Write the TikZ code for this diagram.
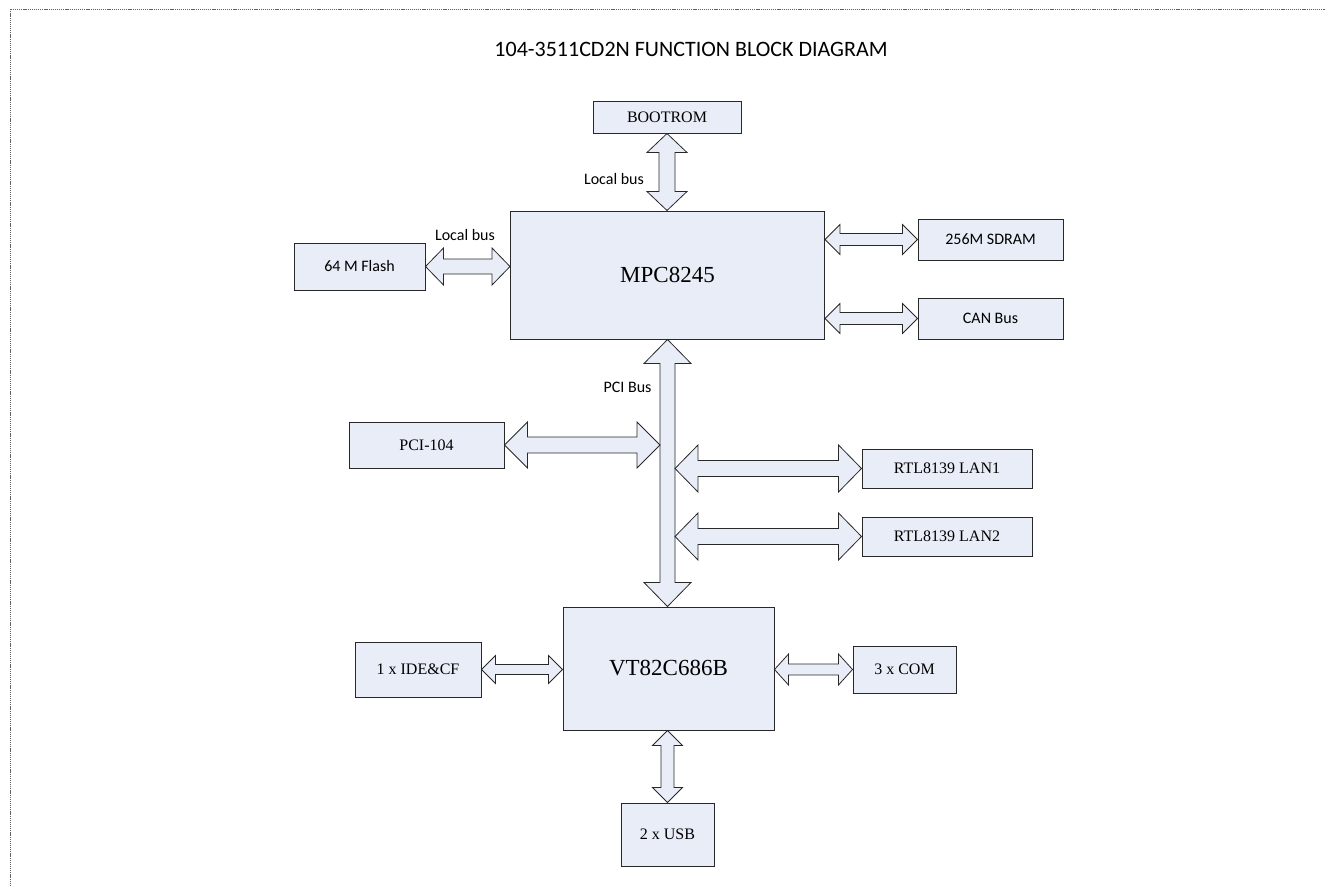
\documentclass[tikz,border=0pt]{standalone}
\usepackage{fontspec}
\setmainfont{Liberation Serif}
\newfontfamily\calfont{Carlito}
\usetikzlibrary{calc}
\definecolor{boxfill}{RGB}{233,237,247}
\definecolor{edge}{RGB}{40,40,40}
\tikzset{
  blk/.style={draw=edge, line width=1pt, fill=boxfill, inner sep=0pt, font=\fontsize{16}{18}\selectfont},
  bigblk/.style={blk, font=\fontsize{23}{26}\selectfont},
  calblk/.style={blk, font=\calfont\fontsize{16}{18}\selectfont},
  lbl/.style={inner sep=0pt, font=\calfont\fontsize{16}{18}\selectfont},
  barrow/.style={draw=edge, line width=0.8pt, fill=boxfill, line join=miter},
  frame/.style={draw=gray!75!black, line width=1pt, dash pattern=on 1.2pt off 0.9pt}
}
% horizontal double block arrow: #1 left tip, #2 right tip, #3 half shaft, #4 half head, #5 head length
\newcommand\harrow[5]{%
  \draw[barrow] (#1) -- ($(#1)+(#5,-#4)$) -- ($(#1)+(#5,-#3)$) -- ($(#2)+(-#5,-#3)$) -- ($(#2)+(-#5,-#4)$) -- (#2)
   -- ($(#2)+(-#5,#4)$) -- ($(#2)+(-#5,#3)$) -- ($(#1)+(#5,#3)$) -- ($(#1)+(#5,#4)$) -- cycle;}
% vertical double block arrow: #1 top tip, #2 bottom tip
\newcommand\varrow[5]{%
  \draw[barrow] (#1) -- ($(#1)+(#4,#5)$) -- ($(#1)+(#3,#5)$) -- ($(#2)+(#3,-#5)$) -- ($(#2)+(#4,-#5)$) -- (#2)
   -- ($(#2)+(-#4,-#5)$) -- ($(#2)+(-#3,-#5)$) -- ($(#1)+(-#3,#5)$) -- ($(#1)+(-#4,#5)$) -- cycle;}
\begin{document}
\begin{tikzpicture}[x=1pt,y=-1pt]
\useasboundingbox (0,0) rectangle (1325,886);
\draw[frame] (10,886) -- (10,9) -- (1325,9);

\node[lbl, font=\calfont\fontsize{22}{24}\selectfont] (title) at (691,49) {104-3511CD2N FUNCTION BLOCK DIAGRAM};

\node[blk, minimum width=148, minimum height=32] (boot) at (667,117) {BOOTROM};
\node[bigblk, minimum width=314, minimum height=128] (mpc) at (667.5,275) {MPC8245};
\node[calblk, minimum width=131, minimum height=47] (flash) at (359.5,266.5) {64 M Flash};
\node[calblk, minimum width=145, minimum height=41] (sdram) at (990.5,239.5) {256M SDRAM};
\node[calblk, minimum width=145, minimum height=41] (can) at (990.5,318.5) {CAN Bus};
\node[blk, minimum width=155, minimum height=46] (pci) at (426.5,445) {PCI-104};
\node[blk, minimum width=170, minimum height=39] (lan1) at (947,468.5) {RTL8139 LAN1};
\node[blk, minimum width=170, minimum height=39] (lan2) at (947,536.5) {RTL8139 LAN2};
\node[bigblk, minimum width=211, minimum height=123] (vt) at (668.5,668.5) {VT82C686B};
\node[blk, minimum width=126, minimum height=55] (ide) at (418,669.5) {1 x IDE\&CF};
\node[blk, minimum width=103, minimum height=47] (com) at (904.5,669.5) {3 x COM};
\node[blk, minimum width=93, minimum height=63] (usb) at (667.5,834.5) {2 x USB};

\node[lbl] (lb1) at (614,179) {Local bus};
\node[lbl] (lb2) at (465,235) {Local bus};
\node[lbl] (lb3) at (627.5,387) {PCI Bus};

% BOOTROM <-> MPC
\coordinate (b1) at (boot.south);
\coordinate (b2) at (boot.south |- mpc.north);
\varrow{b1}{b2}{8}{20}{19}
% Flash <-> MPC
\coordinate (f1) at (flash.east);
\coordinate (f2) at (flash.east -| mpc.west);
\harrow{f1}{f2}{7.5}{18.5}{18}
% MPC <-> SDRAM, CAN
\coordinate (s1) at (mpc.east |- sdram.west);
\coordinate (s2) at (sdram.west);
\harrow{s1}{s2}{6}{15}{15}
\coordinate (c1) at (mpc.east |- can.west);
\coordinate (c2) at (can.west);
\harrow{c1}{c2}{6}{15}{15}
% PCI bus
\coordinate (p1) at (mpc.south);
\coordinate (p2) at (mpc.south |- vt.north);
\varrow{p1}{p2}{7.5}{23.5}{24}
\coordinate (busL) at ($(p1)+(-7.5,0)$);
\coordinate (busR) at ($(p1)+(7.5,0)$);
% PCI-104
\coordinate (q1) at (pci.east);
\coordinate (q2) at (pci.east -| busL);
\harrow{q1}{q2}{8}{23}{23}
% LANs
\coordinate (l1) at (busR |- lan1.west);
\coordinate (l2) at (lan1.west);
\harrow{l1}{l2}{8}{23.5}{23}
\coordinate (m1) at (busR |- lan2.west);
\coordinate (m2) at (lan2.west);
\harrow{m1}{m2}{8}{23.5}{23}
% IDE, COM
\coordinate (i1) at (ide.east);
\coordinate (i2) at (ide.east -| vt.west);
\harrow{i1}{i2}{5}{14}{14}
\coordinate (k1) at (vt.east |- com.west);
\coordinate (k2) at (com.west);
\harrow{k1}{k2}{5.5}{15.5}{14}
% USB
\coordinate (u1) at (usb.north |- vt.south);
\coordinate (u2) at (usb.north);
\varrow{u1}{u2}{6.5}{15}{15}
\end{tikzpicture}
\end{document}
